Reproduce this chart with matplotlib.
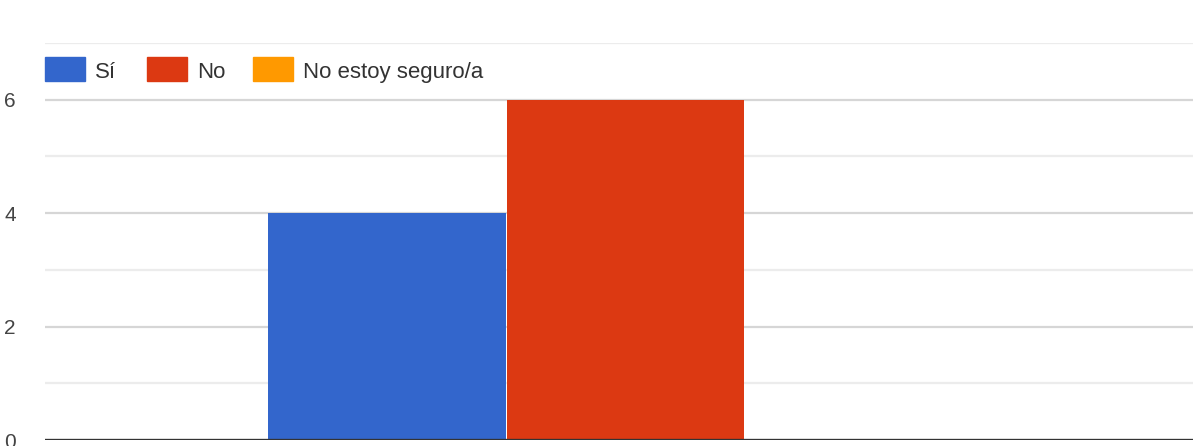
import matplotlib
matplotlib.use("Agg")
from matplotlib import pyplot as plt
from matplotlib.patches import Rectangle

# datos
categorias = ["Sí", "No", "No estoy seguro/a"]
valores = [4, 6, 0]
colores = ["#3366cc", "#dc3912", "#ff9900"]
yticks = [0, 2, 4, 6]

W, H = 1193, 446
fig = plt.figure(figsize=(W / 100, H / 100), dpi=100)
fuente = ["Liberation Sans Narrow", "Liberation Sans", "DejaVu Sans"]

# area del grafico (px -> fraccion)
izq, der, abajo, arriba = 45, 1206, 440, 43
ax = fig.add_axes([izq / W, (H - abajo) / H, (der - izq) / W, (abajo - arriba) / H])
ax.set_xlim(-0.5, 0.5)
ax.set_ylim(0, 7)

ancho = 0.2045
paso = 0.2055
for i, (v, c) in enumerate(zip(valores, colores)):
    ax.bar((i - 1) * paso, v, width=ancho, color=c, zorder=3)

# lineas de cuadricula
for y in range(1, 8):
    ax.axhline(y, color="#d6d6d6" if y % 2 == 0 else "#ececec", lw=1.6, zorder=1)
ax.axhline(0, color="#333333", lw=2.4, zorder=4)

for s in ax.spines.values():
    s.set_visible(False)
ax.set_xticks([])
ax.set_yticks(yticks)
ax.set_yticklabels([str(t) for t in yticks], family=fuente, fontsize=15, color="#444444")
ax.tick_params(axis="y", length=0, pad=21)

# leyenda manual
cajas_x = [45, 147, 253]
for x, lab, c in zip(cajas_x, categorias, colores):
    fig.add_artist(Rectangle((x / W, (H - 81) / H), 40 / W, 24 / H,
                             transform=fig.transFigure, color=c))
    fig.text((x + 50) / W, (H - 78) / H, lab, family=fuente, fontsize=16,
             color="#333333", va="baseline", ha="left")

fig.savefig("out.png", dpi=100)
